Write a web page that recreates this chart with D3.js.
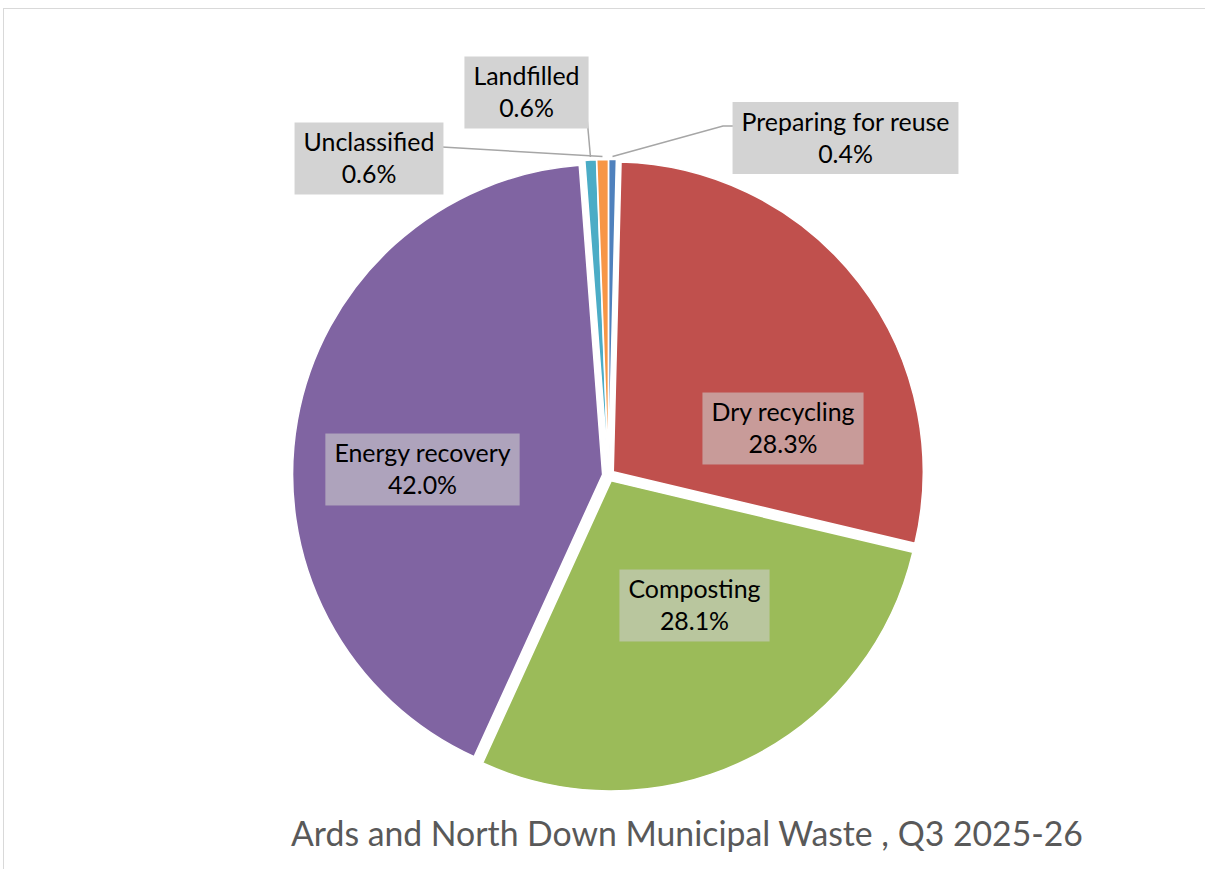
<!DOCTYPE html>
<html lang="en">
<head>
    <meta charset="UTF-8">
    <title>Municipal Waste</title>
    <script src="https://d3js.org/d3.v7.min.js"></script>
    <style>
        body { margin: 0; background: #fff; }
        text { font-family: Lato, "Noto Sans", sans-serif; }
        .slice { stroke: white; stroke-width: 1.5; }
        .leader { stroke: #a6a6a6; stroke-width: 1.5; fill: none; }
    </style>
</head>
<body>
<script>
    // data, clockwise from 12 o'clock
    const categories = ["Preparing for reuse", "Dry recycling", "Composting", "Energy recovery", "Landfilled", "Unclassified"];
    const shares     = [0.4, 28.3, 28.1, 42.0, 0.6, 0.6];
    const pctLabels  = ["0.4%", "28.3%", "28.1%", "42.0%", "0.6%", "0.6%"];
    const colors     = ["#4f81bd", "#c0504d", "#9bbb59", "#8064a2", "#4bacc6", "#f79646"];
    const title      = "Ards and North Down Municipal Waste , Q3 2025-26";

    const width  = 1205;
    const height = 869;
    const cx = 608.5, cy = 475.5, r = 310, explode = 6;

    // label box centres (layout), inside = on the slice
    const labelPos = {
        "Preparing for reuse": {x: 845.5, y: 138,   inside: false},
        "Dry recycling":       {x: 783,   y: 428.5, inside: true},
        "Composting":          {x: 694.5, y: 605.5, inside: true},
        "Energy recovery":     {x: 422.5, y: 469.5, inside: true},
        "Landfilled":          {x: 526.5, y: 92.5,  inside: false},
        "Unclassified":        {x: 369,   y: 158.5, inside: false}
    };

    const svg = d3.select("body").append("svg").attr("width", width).attr("height", height);

    // chart frame
    svg.append("rect")
       .attr("x", 3.5).attr("y", 8.5).attr("width", 1220).attr("height", 880)
       .attr("fill", "white").attr("stroke", "#d9d9d9").attr("stroke-width", 1);

    const pie = d3.pie().sort(null).value(d => d.v);
    const arcs = pie(categories.map((c, i) => ({c: c, v: shares[i], p: pctLabels[i], col: colors[i]})));
    const arc = d3.arc().innerRadius(0).outerRadius(r);

    const g = svg.append("g").attr("transform", `translate(${cx},${cy})`);

    const offset = d => {
        const a = (d.startAngle + d.endAngle) / 2;
        return [Math.sin(a) * explode, -Math.cos(a) * explode];
    };

    g.selectAll("path.slice")
     .data(arcs)
     .join("path").attr("class", "slice")
     .attr("d", arc)
     .attr("fill", d => d.data.col)
     .attr("transform", d => `translate(${offset(d)})`);

    // pick a font size close to the reference text widths
    const probe = svg.append("text").attr("font-size", 20).text("Preparing for reuse");
    const fs = 20 * 208 / probe.node().getComputedTextLength();
    probe.remove();

    // leader lines for the thin slices
    const edgePoint = d => {
        const a = (d.startAngle + d.endAngle) / 2;
        const rr = r + explode + 3;
        return [cx + Math.sin(a) * rr, cy - Math.cos(a) * rr];
    };
    const leaderStart = {
        "Preparing for reuse": [[733, 126], [723, 126]],
        "Landfilled":          [[587, 118]],
        "Unclassified":        [[442, 147]]
    };
    arcs.filter(d => leaderStart[d.data.c]).forEach(d => {
        const pts = leaderStart[d.data.c].concat([edgePoint(d)]);
        svg.append("path").attr("class", "leader").attr("d", d3.line()(pts));
    });

    // label boxes
    const labels = svg.selectAll("g.label")
        .data(arcs)
        .join("g").attr("class", "label")
        .attr("transform", d => `translate(${labelPos[d.data.c].x},${labelPos[d.data.c].y})`);

    labels.append("rect").attr("class", "box");

    labels.append("text")
          .attr("text-anchor", "middle")
          .attr("font-size", fs)
          .attr("fill", "#000")
          .selectAll("tspan")
          .data(d => [d.data.c, d.data.p])
          .join("tspan")
          .attr("x", 0)
          .attr("y", (d, i) => i === 0 ? -16 : 16)
          .attr("dy", "0.35em")
          .text(d => d);

    labels.each(function(d) {
        const t = d3.select(this).select("text").node().getBBox();
        const inside = labelPos[d.data.c].inside;
        d3.select(this).select("rect.box")
          .attr("x", -(t.width / 2 + 9)).attr("y", -36)
          .attr("width", t.width + 18).attr("height", 72)
          .attr("fill", inside ? "rgba(205,205,205,0.6)" : "#d3d3d3");
    });

    // title at the bottom
    const tt = svg.append("text")
       .attr("x", 687).attr("y", 846)
       .attr("text-anchor", "middle")
       .attr("fill", "#595959")
       .attr("font-size", 30)
       .text(title);
    const tw = tt.node().getComputedTextLength();
    tt.attr("font-size", 30 * 792 / tw);
</script>
</body>
</html>
